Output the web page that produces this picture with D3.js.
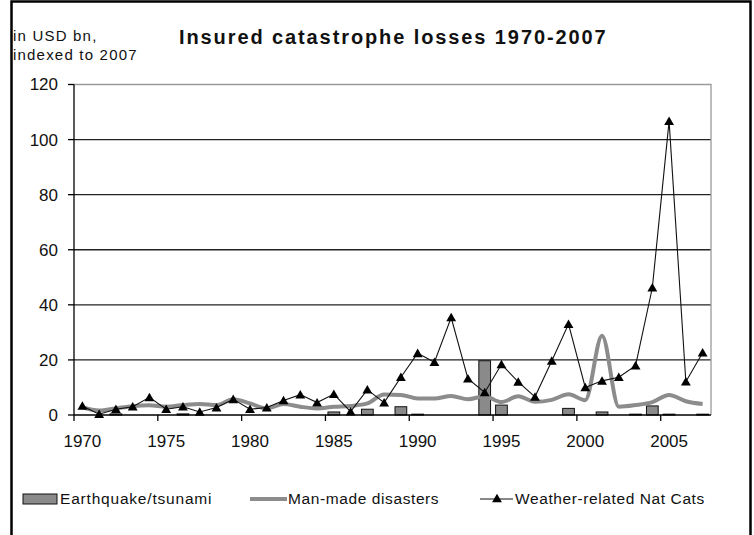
<!DOCTYPE html>
<html>
<head>
<meta charset="utf-8">
<script src="https://cdn.jsdelivr.net/npm/d3@7"></script>
<style>
  body { margin: 0; background: #fff; }
  svg text { font-family: "Liberation Sans", Arial, sans-serif; fill: #111; }
</style>
</head>
<body>
<div id="chart"></div>
<script>
const years = d3.range(1970, 2008);

// Weather-related Nat Cats (USD bn, indexed to 2007)
const weatherLosses = [3.3, 0.3, 2.1, 3.0, 6.4, 2.1, 3.0, 1.1, 2.7, 5.7,
  2.1, 2.7, 5.3, 7.4, 4.5, 7.6, 1.2, 9.2, 4.5, 13.7,
  22.4, 19.2, 35.4, 13.2, 8.2, 18.4, 12.0, 6.6, 19.6, 33.0,
  10.0, 12.4, 13.7, 17.9, 46.2, 106.7, 12.1, 22.6];

// Man-made disasters
const manMadeLosses = [2.8, 1.6, 2.4, 3.2, 3.5, 3.0, 3.6, 4.0, 3.6, 5.7,
  4.2, 2.4, 4.0, 3.0, 2.4, 3.0, 3.3, 4.2, 7.4, 7.3,
  6.0, 6.0, 6.9, 5.7, 6.8, 4.7, 6.8, 4.8, 5.5, 7.5,
  5.4, 28.8, 3.0, 3.6, 4.7, 7.3, 5.0, 4.0];

// Earthquake/tsunami
const quakeLosses = [0, 0, 0.4, 0, 0, 0, 0.4, 0, 0, 0,
  0, 0, 0, 0, 0, 1.1, 0, 2.1, 0, 3.0,
  0.3, 0, 0, 0, 19.7, 3.6, 0, 0, 0, 2.4,
  0, 1.1, 0, 0.3, 3.3, 0.3, 0, 0.3];

const yTicks = [0, 20, 40, 60, 80, 100, 120];
const xTickYears = [1970, 1975, 1980, 1985, 1990, 1995, 2000, 2005];

const width = 754, height = 535;
const margin = {top: 84.5, left: 74, right: 43, bottom: 120};

const svg = d3.select("#chart").append("svg")
    .attr("width", width)
    .attr("height", height);

svg.append("rect").attr("width", width).attr("height", height).attr("fill", "#fff");

// outer frame
svg.append("rect")
    .attr("x", 11.5).attr("y", 1.5)
    .attr("width", 739).attr("height", 560)
    .attr("fill", "none")
    .attr("stroke", "#000")
    .attr("stroke-width", 2.5);

const x = d3.scaleBand()
    .domain(years)
    .range([margin.left, width - margin.right])
    .paddingInner(0)
    .paddingOuter(0);

const y = d3.scaleLinear()
    .domain([0, 120])
    .range([415, margin.top]);

const cx = d => x(d) + x.bandwidth() / 2;

// gridlines
svg.append("g")
    .selectAll("line")
    .data(yTicks.filter(t => t > 0 && t < 120))
    .join("line")
    .attr("x1", margin.left).attr("x2", width - margin.right)
    .attr("y1", d => y(d)).attr("y2", d => y(d))
    .attr("stroke", "#222")
    .attr("stroke-width", 1.3);

// plot area border (top/right)
svg.append("path")
    .attr("d", `M${margin.left},${y(120)}H${width - margin.right}V${y(0)}`)
    .attr("fill", "none")
    .attr("stroke", "#9a9a9a")
    .attr("stroke-width", 1.3);

// earthquake bars
const barW = x.bandwidth() * 0.7;
svg.append("g")
    .selectAll("rect")
    .data(years.map((yr, i) => ({yr, v: quakeLosses[i]})).filter(d => d.v > 0))
    .join("rect")
    .attr("x", d => cx(d.yr) - barW / 2)
    .attr("y", d => y(d.v))
    .attr("width", barW)
    .attr("height", d => y(0) - y(d.v))
    .attr("fill", "#8a8a8a")
    .attr("stroke", "#111")
    .attr("stroke-width", 1);

// man-made line
const manLine = d3.line()
    .x((d, i) => cx(years[i]))
    .y(d => y(d))
    .curve(d3.curveMonotoneX);

svg.append("path")
    .datum(manMadeLosses)
    .attr("d", manLine)
    .attr("fill", "none")
    .attr("stroke", "#8c8c8c")
    .attr("stroke-width", 4)
    .attr("stroke-linejoin", "round");

// weather line
const weatherLine = d3.line()
    .x((d, i) => cx(years[i]))
    .y(d => y(d));

svg.append("path")
    .datum(weatherLosses)
    .attr("d", weatherLine)
    .attr("fill", "none")
    .attr("stroke", "#111")
    .attr("stroke-width", 1.1);

const tri = d3.symbol().type(d3.symbolTriangle).size(42);
svg.append("g")
    .selectAll("path")
    .data(weatherLosses)
    .join("path")
    .attr("d", tri)
    .attr("transform", (d, i) => `translate(${cx(years[i])},${y(d) + 1})`)
    .attr("fill", "#000");

// y axis
svg.append("line")
    .attr("x1", margin.left).attr("x2", margin.left)
    .attr("y1", y(120)).attr("y2", y(0))
    .attr("stroke", "#000").attr("stroke-width", 1.3);

const yAxis = svg.append("g");
yAxis.selectAll("line")
    .data(yTicks)
    .join("line")
    .attr("x1", margin.left - 6).attr("x2", margin.left)
    .attr("y1", d => y(d)).attr("y2", d => y(d))
    .attr("stroke", "#000").attr("stroke-width", 1.3);
yAxis.selectAll("text")
    .data(yTicks)
    .join("text")
    .attr("x", 58)
    .attr("y", d => y(d))
    .attr("dy", "0.35em")
    .attr("text-anchor", "end")
    .style("font-size", "17px")
    .text(d => d);

// x axis
svg.append("line")
    .attr("x1", margin.left).attr("x2", width - margin.right)
    .attr("y1", y(0)).attr("y2", y(0))
    .attr("stroke", "#000").attr("stroke-width", 1.3);

const xAxis = svg.append("g");
xAxis.selectAll("line")
    .data(xTickYears)
    .join("line")
    .attr("x1", d => x(d)).attr("x2", d => x(d))
    .attr("y1", y(0)).attr("y2", y(0) + 6)
    .attr("stroke", "#000").attr("stroke-width", 1.3);
xAxis.selectAll("text")
    .data(xTickYears)
    .join("text")
    .attr("x", d => cx(d))
    .attr("y", 447)
    .attr("text-anchor", "middle")
    .style("font-size", "17px")
    .text(d => d);

// titles
svg.append("text")
    .attr("x", 179).attr("y", 44)
    .style("font-size", "20px")
    .style("font-weight", "bold")
    .style("letter-spacing", "1.9px")
    .text("Insured catastrophe losses 1970-2007");

svg.append("text")
    .attr("x", 13).attr("y", 41)
    .style("font-size", "15px")
    .style("letter-spacing", "1.2px")
    .text("in USD bn,");
svg.append("text")
    .attr("x", 13).attr("y", 60)
    .style("font-size", "15px")
    .style("letter-spacing", "1.2px")
    .text("indexed to 2007");

// legend
const legendY = 499;
const legend = svg.append("g").style("font-size", "15.5px");

legend.append("rect")
    .attr("x", 23).attr("y", legendY - 5)
    .attr("width", 34).attr("height", 10)
    .attr("fill", "#8a8a8a").attr("stroke", "#111").attr("stroke-width", 1);
legend.append("text")
    .attr("x", 60).attr("y", legendY).attr("dy", "0.35em")
    .style("letter-spacing", "0.8px")
    .text("Earthquake/tsunami");

legend.append("line")
    .attr("x1", 250).attr("x2", 287)
    .attr("y1", legendY).attr("y2", legendY)
    .attr("stroke", "#8c8c8c").attr("stroke-width", 4);
legend.append("text")
    .attr("x", 288).attr("y", legendY).attr("dy", "0.35em")
    .style("letter-spacing", "0.6px")
    .text("Man-made disasters");

legend.append("line")
    .attr("x1", 480).attr("x2", 513)
    .attr("y1", legendY).attr("y2", legendY)
    .attr("stroke", "#111").attr("stroke-width", 1.1);
legend.append("path")
    .attr("d", tri)
    .attr("transform", `translate(497,${legendY + 0.5})`)
    .attr("fill", "#000");
legend.append("text")
    .attr("x", 515).attr("y", legendY).attr("dy", "0.35em")
    .style("letter-spacing", "0.6px")
    .text("Weather-related Nat Cats");
</script>
</body>
</html>
